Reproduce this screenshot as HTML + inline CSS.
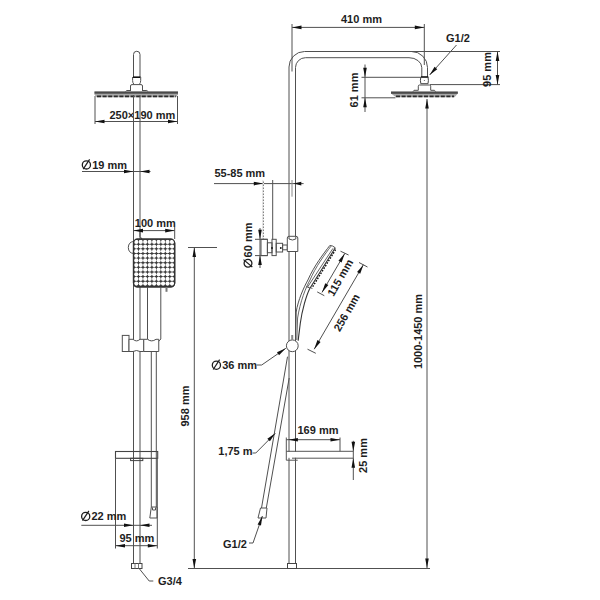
<!DOCTYPE html>
<html><head><meta charset="utf-8"><style>
html,body{margin:0;padding:0;background:#fff;width:600px;height:600px;overflow:hidden}
svg{display:block}
text{font-family:"Liberation Sans",sans-serif}
</style></head><body>
<svg width="600" height="600" viewBox="0 0 600 600">
<rect width="600" height="600" fill="#fff"/>
<path d="M133.5,77 V54.5 A3.25,3.25 0 0 1 140,54.5 V77" stroke="#505050" stroke-width="1" fill="none"/>
<line x1="133" y1="77.2" x2="140.5" y2="77.2" stroke="#111" stroke-width="1.6"/>
<path d="M132.6,77 V80.5 Q132.6,83 134,84.4 M140.7,77 V80.5 Q140.7,83 139.3,84.4" stroke="#505050" stroke-width="1" fill="none"/>
<path d="M130.5,91 V86 Q130.5,84.6 132,84.6 H141 Q142.5,84.6 142.5,86 V91" stroke="#505050" stroke-width="1" fill="none"/>
<path d="M125.3,91.8 L126.8,90.5 H130.5 M142.5,90.5 H146.8 L148.3,91.8" stroke="#505050" stroke-width="1" fill="none"/>
<path d="M94.5,91.5 H178 V94.5 L176,97.3 H96.5 L94.5,94.5 Z" stroke="none" stroke-width="0" fill="#a8a8a8"/>
<rect x="94.5" y="91.5" width="83.5" height="2.2" rx="0" stroke="none" stroke-width="0" fill="#4a4a4a"/>
<line x1="97" y1="96.4" x2="176" y2="96.4" stroke="#2a2a2a" stroke-width="1.8" stroke-dasharray="4 1.6"/>
<line x1="95" y1="96" x2="95" y2="124" stroke="#505050" stroke-width="1"/>
<line x1="177.5" y1="96" x2="177.5" y2="124" stroke="#505050" stroke-width="1"/>
<line x1="95" y1="121.5" x2="177.5" y2="121.5" stroke="#505050" stroke-width="1"/>
<polygon points="95.00,121.50 104.50,119.70 104.50,123.30" fill="#111"/>
<polygon points="177.50,121.50 168.00,123.30 168.00,119.70" fill="#111"/>
<text x="109.5" y="118.5" font-size="11" text-anchor="start" fill="#1e1e1e" font-weight="bold">250×190 mm</text>
<line x1="133.5" y1="95" x2="133.5" y2="563.5" stroke="#505050" stroke-width="1"/>
<line x1="140" y1="95" x2="140" y2="563.5" stroke="#505050" stroke-width="1"/>
<circle cx="86.40" cy="164.90" r="4.10" stroke="#1e1e1e" stroke-width="1.3" fill="none"/>
<line x1="83.20" y1="169.20" x2="89.60" y2="159.40" stroke="#1e1e1e" stroke-width="1.2"/>
<text x="92.2" y="168.5" font-size="11" text-anchor="start" fill="#1e1e1e" font-weight="bold">19 mm</text>
<line x1="82" y1="171.5" x2="150.5" y2="171.5" stroke="#505050" stroke-width="1"/>
<polygon points="133.50,171.50 124.00,173.30 124.00,169.70" fill="#111"/>
<polygon points="140.00,171.50 149.50,169.70 149.50,173.30" fill="#111"/>
<text x="134.8" y="226.6" font-size="11" text-anchor="start" fill="#1e1e1e" font-weight="bold">100 mm</text>
<line x1="133.5" y1="230.6" x2="174.7" y2="230.6" stroke="#505050" stroke-width="1"/>
<polygon points="133.50,230.60 143.00,228.80 143.00,232.40" fill="#111"/>
<polygon points="174.70,230.60 165.20,232.40 165.20,228.80" fill="#111"/>
<line x1="174.7" y1="227" x2="174.7" y2="239" stroke="#505050" stroke-width="1"/>
<path d="M140,232 V236.5 L142,239" stroke="#505050" stroke-width="1" fill="none"/>
<path d="M133.5,241.5 Q128.5,242 128.3,247.5 Q128.5,253 133.5,253.5" stroke="#505050" stroke-width="1" fill="none"/>
<rect x="133.5" y="239.2" width="41.2" height="47.7" rx="4" stroke="#333" stroke-width="1.2" fill="#3a3a3a"/>
<circle cx="136.25" cy="241.90" r="2.12" fill="#fff"/>
<circle cx="136.25" cy="246.53" r="2.12" fill="#fff"/>
<circle cx="136.25" cy="251.16" r="2.12" fill="#fff"/>
<circle cx="136.25" cy="255.79" r="2.12" fill="#fff"/>
<circle cx="136.25" cy="260.42" r="2.12" fill="#fff"/>
<circle cx="136.25" cy="265.05" r="2.12" fill="#fff"/>
<circle cx="136.25" cy="269.68" r="2.12" fill="#fff"/>
<circle cx="136.25" cy="274.31" r="2.12" fill="#fff"/>
<circle cx="136.25" cy="278.94" r="2.12" fill="#fff"/>
<circle cx="136.25" cy="283.57" r="2.12" fill="#fff"/>
<circle cx="140.72" cy="241.90" r="2.12" fill="#fff"/>
<circle cx="140.72" cy="246.53" r="2.12" fill="#fff"/>
<circle cx="140.72" cy="251.16" r="2.12" fill="#fff"/>
<circle cx="140.72" cy="255.79" r="2.12" fill="#fff"/>
<circle cx="140.72" cy="260.42" r="2.12" fill="#fff"/>
<circle cx="140.72" cy="265.05" r="2.12" fill="#fff"/>
<circle cx="140.72" cy="269.68" r="2.12" fill="#fff"/>
<circle cx="140.72" cy="274.31" r="2.12" fill="#fff"/>
<circle cx="140.72" cy="278.94" r="2.12" fill="#fff"/>
<circle cx="140.72" cy="283.57" r="2.12" fill="#fff"/>
<circle cx="145.19" cy="241.90" r="2.12" fill="#fff"/>
<circle cx="145.19" cy="246.53" r="2.12" fill="#fff"/>
<circle cx="145.19" cy="251.16" r="2.12" fill="#fff"/>
<circle cx="145.19" cy="255.79" r="2.12" fill="#fff"/>
<circle cx="145.19" cy="260.42" r="2.12" fill="#fff"/>
<circle cx="145.19" cy="265.05" r="2.12" fill="#fff"/>
<circle cx="145.19" cy="269.68" r="2.12" fill="#fff"/>
<circle cx="145.19" cy="274.31" r="2.12" fill="#fff"/>
<circle cx="145.19" cy="278.94" r="2.12" fill="#fff"/>
<circle cx="145.19" cy="283.57" r="2.12" fill="#fff"/>
<circle cx="149.66" cy="241.90" r="2.12" fill="#fff"/>
<circle cx="149.66" cy="246.53" r="2.12" fill="#fff"/>
<circle cx="149.66" cy="251.16" r="2.12" fill="#fff"/>
<circle cx="149.66" cy="255.79" r="2.12" fill="#fff"/>
<circle cx="149.66" cy="260.42" r="2.12" fill="#fff"/>
<circle cx="149.66" cy="265.05" r="2.12" fill="#fff"/>
<circle cx="149.66" cy="269.68" r="2.12" fill="#fff"/>
<circle cx="149.66" cy="274.31" r="2.12" fill="#fff"/>
<circle cx="149.66" cy="278.94" r="2.12" fill="#fff"/>
<circle cx="149.66" cy="283.57" r="2.12" fill="#fff"/>
<circle cx="154.13" cy="241.90" r="2.12" fill="#fff"/>
<circle cx="154.13" cy="246.53" r="2.12" fill="#fff"/>
<circle cx="154.13" cy="251.16" r="2.12" fill="#fff"/>
<circle cx="154.13" cy="255.79" r="2.12" fill="#fff"/>
<circle cx="154.13" cy="260.42" r="2.12" fill="#fff"/>
<circle cx="154.13" cy="265.05" r="2.12" fill="#fff"/>
<circle cx="154.13" cy="269.68" r="2.12" fill="#fff"/>
<circle cx="154.13" cy="274.31" r="2.12" fill="#fff"/>
<circle cx="154.13" cy="278.94" r="2.12" fill="#fff"/>
<circle cx="154.13" cy="283.57" r="2.12" fill="#fff"/>
<circle cx="158.60" cy="241.90" r="2.12" fill="#fff"/>
<circle cx="158.60" cy="246.53" r="2.12" fill="#fff"/>
<circle cx="158.60" cy="251.16" r="2.12" fill="#fff"/>
<circle cx="158.60" cy="255.79" r="2.12" fill="#fff"/>
<circle cx="158.60" cy="260.42" r="2.12" fill="#fff"/>
<circle cx="158.60" cy="265.05" r="2.12" fill="#fff"/>
<circle cx="158.60" cy="269.68" r="2.12" fill="#fff"/>
<circle cx="158.60" cy="274.31" r="2.12" fill="#fff"/>
<circle cx="158.60" cy="278.94" r="2.12" fill="#fff"/>
<circle cx="158.60" cy="283.57" r="2.12" fill="#fff"/>
<circle cx="163.07" cy="241.90" r="2.12" fill="#fff"/>
<circle cx="163.07" cy="246.53" r="2.12" fill="#fff"/>
<circle cx="163.07" cy="251.16" r="2.12" fill="#fff"/>
<circle cx="163.07" cy="255.79" r="2.12" fill="#fff"/>
<circle cx="163.07" cy="260.42" r="2.12" fill="#fff"/>
<circle cx="163.07" cy="265.05" r="2.12" fill="#fff"/>
<circle cx="163.07" cy="269.68" r="2.12" fill="#fff"/>
<circle cx="163.07" cy="274.31" r="2.12" fill="#fff"/>
<circle cx="163.07" cy="278.94" r="2.12" fill="#fff"/>
<circle cx="163.07" cy="283.57" r="2.12" fill="#fff"/>
<circle cx="167.54" cy="241.90" r="2.12" fill="#fff"/>
<circle cx="167.54" cy="246.53" r="2.12" fill="#fff"/>
<circle cx="167.54" cy="251.16" r="2.12" fill="#fff"/>
<circle cx="167.54" cy="255.79" r="2.12" fill="#fff"/>
<circle cx="167.54" cy="260.42" r="2.12" fill="#fff"/>
<circle cx="167.54" cy="265.05" r="2.12" fill="#fff"/>
<circle cx="167.54" cy="269.68" r="2.12" fill="#fff"/>
<circle cx="167.54" cy="274.31" r="2.12" fill="#fff"/>
<circle cx="167.54" cy="278.94" r="2.12" fill="#fff"/>
<circle cx="167.54" cy="283.57" r="2.12" fill="#fff"/>
<circle cx="172.01" cy="241.90" r="2.12" fill="#fff"/>
<circle cx="172.01" cy="246.53" r="2.12" fill="#fff"/>
<circle cx="172.01" cy="251.16" r="2.12" fill="#fff"/>
<circle cx="172.01" cy="255.79" r="2.12" fill="#fff"/>
<circle cx="172.01" cy="260.42" r="2.12" fill="#fff"/>
<circle cx="172.01" cy="265.05" r="2.12" fill="#fff"/>
<circle cx="172.01" cy="269.68" r="2.12" fill="#fff"/>
<circle cx="172.01" cy="274.31" r="2.12" fill="#fff"/>
<circle cx="172.01" cy="278.94" r="2.12" fill="#fff"/>
<circle cx="172.01" cy="283.57" r="2.12" fill="#fff"/>
<rect x="133.5" y="239.2" width="41.2" height="47.7" rx="4" stroke="#333" stroke-width="1.2" fill="none"/>
<line x1="147.5" y1="287" x2="147.5" y2="339" stroke="#505050" stroke-width="1"/>
<line x1="160.8" y1="287" x2="160.8" y2="339" stroke="#505050" stroke-width="1"/>
<path d="M147.5,339 Q148,341.5 152,341.5 H156 Q160,341.5 160.8,339" stroke="#505050" stroke-width="1" fill="none"/>
<line x1="166.5" y1="287" x2="166.5" y2="291.8" stroke="#777" stroke-width="2"/>
<rect x="122.3" y="335.4" width="6.7" height="16.1" rx="0" stroke="#505050" stroke-width="1" fill="none"/>
<path d="M129,339.3 H133 Q136.5,342.5 140,339.3 H143.75 V351.5 H140 Q136.5,349.5 133,351.5 H129 Z" stroke="#505050" stroke-width="1" fill="#fff"/>
<path d="M143.75,339.3 H147.5 Q151.5,342.5 156,339.3 H158.75 V351.5 H143.75 Z" stroke="#505050" stroke-width="1" fill="#fff"/>
<line x1="151.3" y1="351.5" x2="151.3" y2="507" stroke="#505050" stroke-width="1"/>
<line x1="156.3" y1="351.5" x2="156.3" y2="507" stroke="#505050" stroke-width="1"/>
<line x1="188" y1="247.5" x2="217" y2="247.5" stroke="#505050" stroke-width="1"/>
<line x1="194.3" y1="247.5" x2="194.3" y2="568.5" stroke="#505050" stroke-width="1"/>
<polygon points="194.30,247.50 196.10,257.00 192.50,257.00" fill="#111"/>
<polygon points="194.30,568.50 192.50,559.00 196.10,559.00" fill="#111"/>
<text x="188.5" y="406" font-size="11" text-anchor="middle" fill="#1e1e1e" font-weight="bold" transform="rotate(-90 188.5 406)">958 mm</text>
<rect x="115.5" y="451.5" width="42.2" height="6.8" rx="0" stroke="#444" stroke-width="1.1" fill="none"/>
<rect x="130.6" y="458.3" width="12.2" height="2.3" rx="0" stroke="#444" stroke-width="1" fill="none"/>
<line x1="115.5" y1="458.3" x2="115.5" y2="548.5" stroke="#505050" stroke-width="1"/>
<line x1="157.3" y1="458.3" x2="157.3" y2="548.5" stroke="#505050" stroke-width="1"/>
<path d="M151.3,507 L149.8,518 H157 L157,507 Z" stroke="#505050" stroke-width="1" fill="none"/>
<path d="M152.5,507.5 V510 H155.5 V507.5" stroke="#505050" stroke-width="1" fill="none"/>
<circle cx="85.70" cy="516.40" r="4.10" stroke="#1e1e1e" stroke-width="1.3" fill="none"/>
<line x1="82.50" y1="520.70" x2="88.90" y2="510.90" stroke="#1e1e1e" stroke-width="1.2"/>
<text x="91.5" y="520" font-size="11" text-anchor="start" fill="#1e1e1e" font-weight="bold">22 mm</text>
<line x1="81.3" y1="525.3" x2="152" y2="525.3" stroke="#505050" stroke-width="1"/>
<polygon points="133.50,525.30 124.00,527.10 124.00,523.50" fill="#111"/>
<polygon points="140.00,525.30 149.50,523.50 149.50,527.10" fill="#111"/>
<text x="119.5" y="541.8" font-size="11" text-anchor="start" fill="#1e1e1e" font-weight="bold">95 mm</text>
<line x1="115.5" y1="545.7" x2="157.3" y2="545.7" stroke="#505050" stroke-width="1"/>
<polygon points="115.50,545.70 125.00,543.90 125.00,547.50" fill="#111"/>
<polygon points="157.30,545.70 147.80,547.50 147.80,543.90" fill="#111"/>
<rect x="131.5" y="563.5" width="10.5" height="5" rx="0" stroke="#444" stroke-width="1" fill="none"/>
<line x1="135" y1="563.5" x2="135" y2="568.5" stroke="#777" stroke-width="1"/>
<line x1="138.5" y1="563.5" x2="138.5" y2="568.5" stroke="#777" stroke-width="1"/>
<path d="M139.3,568.7 L149.2,581 H153.3" stroke="#505050" stroke-width="1" fill="none"/>
<text x="158" y="585" font-size="11" text-anchor="start" fill="#1e1e1e" font-weight="bold">G3/4</text>
<text x="341" y="22.6" font-size="11" text-anchor="start" fill="#1e1e1e" font-weight="bold">410 mm</text>
<line x1="292" y1="27.4" x2="424.3" y2="27.4" stroke="#505050" stroke-width="1"/>
<polygon points="292.00,27.40 301.50,25.60 301.50,29.20" fill="#111"/>
<polygon points="424.30,27.40 414.80,29.20 414.80,25.60" fill="#111"/>
<line x1="292" y1="24" x2="292" y2="71.5" stroke="#505050" stroke-width="1"/>
<line x1="424.3" y1="24" x2="424.3" y2="65" stroke="#505050" stroke-width="1"/>
<path d="M289,563.5 V67 A15.5,15.5 0 0 1 304.5,51.5 H411.5 A16,16 0 0 1 427.5,67.5 V77" stroke="#505050" stroke-width="1" fill="none"/>
<path d="M295.5,563.5 V67.5 A10,10 0 0 1 305.5,57.7 H409 A12.8,10 0 0 1 421.8,67.7 V77" stroke="#505050" stroke-width="1" fill="none"/>
<line x1="421" y1="77" x2="428.3" y2="77" stroke="#111" stroke-width="1.6"/>
<path d="M420.8,77 Q420,80.3 420.8,83.7 H428 Q428.8,80.3 428,77" stroke="#444" stroke-width="1" fill="none"/>
<circle cx="424.4" cy="80.5" r="0.6" fill="#666"/>
<path d="M412.7,92 L414,90.3 H418.3 V86.2 Q418.3,85 419.5,85 H429.5 Q430.7,85 430.7,86.2 V90.3 H434.5 L435.7,92" stroke="#505050" stroke-width="1" fill="none"/>
<line x1="411" y1="51.5" x2="500" y2="51.5" stroke="#505050" stroke-width="1"/>
<line x1="430" y1="84.6" x2="500" y2="84.6" stroke="#505050" stroke-width="1"/>
<line x1="497.5" y1="51.5" x2="497.5" y2="84.6" stroke="#505050" stroke-width="1"/>
<polygon points="497.50,51.50 499.30,61.00 495.70,61.00" fill="#111"/>
<polygon points="497.50,84.60 495.70,75.10 499.30,75.10" fill="#111"/>
<text x="490.7" y="69.5" font-size="11" text-anchor="middle" fill="#1e1e1e" font-weight="bold" transform="rotate(-90 490.7 69.5)">95 mm</text>
<text x="446" y="42" font-size="11" text-anchor="start" fill="#1e1e1e" font-weight="bold">G1/2</text>
<line x1="456.5" y1="45" x2="429.6" y2="75" stroke="#505050" stroke-width="1"/>
<polygon points="429.60,75.00 434.60,66.73 437.28,69.13" fill="#111"/>
<path d="M391,91.6 H457.8 V93.5 L454.5,97.2 H396 L391,93.5 Z" stroke="none" stroke-width="0" fill="#a8a8a8"/>
<rect x="391" y="91.6" width="66.8" height="2.2" rx="0" stroke="none" stroke-width="0" fill="#4a4a4a"/>
<line x1="396" y1="96.4" x2="454" y2="96.4" stroke="#2a2a2a" stroke-width="1.8" stroke-dasharray="4 1.6"/>
<line x1="361.5" y1="77.3" x2="421" y2="77.3" stroke="#505050" stroke-width="1"/>
<line x1="361.5" y1="97.8" x2="395.5" y2="97.8" stroke="#505050" stroke-width="1"/>
<line x1="365" y1="64.5" x2="365" y2="112" stroke="#505050" stroke-width="1"/>
<polygon points="365.00,77.30 363.20,67.80 366.80,67.80" fill="#111"/>
<polygon points="365.00,97.80 366.80,107.30 363.20,107.30" fill="#111"/>
<text x="358" y="90" font-size="11" text-anchor="middle" fill="#1e1e1e" font-weight="bold" transform="rotate(-90 358 90)">61 mm</text>
<line x1="427" y1="99" x2="427" y2="568" stroke="#505050" stroke-width="1"/>
<polygon points="427.00,99.00 428.80,108.50 425.20,108.50" fill="#111"/>
<polygon points="427.00,568.00 425.20,558.50 428.80,558.50" fill="#111"/>
<text x="422.2" y="331.5" font-size="11" text-anchor="middle" fill="#1e1e1e" font-weight="bold" transform="rotate(-90 422.2 331.5)">1000-1450 mm</text>
<line x1="188" y1="568.5" x2="430" y2="568.5" stroke="#505050" stroke-width="1"/>
<rect x="287.5" y="563.5" width="9" height="5" rx="0" stroke="#444" stroke-width="1" fill="none"/>
<text x="214.4" y="177.2" font-size="11" text-anchor="start" fill="#1e1e1e" font-weight="bold">55-85 mm</text>
<line x1="214" y1="183.6" x2="303.6" y2="183.6" stroke="#505050" stroke-width="1"/>
<polygon points="263.30,183.60 253.80,185.40 253.80,181.80" fill="#111"/>
<polygon points="293.50,183.60 301.30,181.80 301.30,185.40" fill="#111"/>
<line x1="263.3" y1="180" x2="263.3" y2="239" stroke="#666" stroke-width="1"/>
<line x1="263.3" y1="180" x2="263.3" y2="256" stroke="#fff" stroke-width="1.2" stroke-dasharray="1.5 1.5"/>
<line x1="272.7" y1="180" x2="272.7" y2="239.3" stroke="#505050" stroke-width="1"/>
<line x1="292" y1="180" x2="292" y2="196.7" stroke="#888" stroke-width="1"/>
<line x1="260" y1="228" x2="260" y2="268" stroke="#505050" stroke-width="1"/>
<polygon points="260.00,239.30 258.20,229.80 261.80,229.80" fill="#111"/>
<polygon points="260.00,255.60 261.80,265.10 258.20,265.10" fill="#111"/>
<line x1="255" y1="239.3" x2="267.4" y2="239.3" stroke="#505050" stroke-width="1"/>
<line x1="255" y1="255.6" x2="267.4" y2="255.6" stroke="#505050" stroke-width="1"/>
<g transform="translate(251.9,267.6) rotate(-90)">
<circle cx="4.3" cy="-3.9" r="3.9" stroke="#1e1e1e" stroke-width="1.3" fill="none"/>
<line x1="0.6" y1="0.4" x2="8" y2="-8.4" stroke="#1e1e1e" stroke-width="1.2"/>
<text x="10.2" y="0" font-size="11" font-weight="bold" fill="#1e1e1e">60 mm</text>
</g>
<rect x="261" y="239.3" width="6.4" height="16.3" rx="0" stroke="#505050" stroke-width="1" fill="none"/>
<rect x="267.4" y="242.8" width="4.6" height="9.9" rx="0" stroke="#505050" stroke-width="1" fill="none"/>
<rect x="272" y="239.3" width="4.2" height="16.3" rx="0" stroke="#505050" stroke-width="1" fill="none"/>
<rect x="276.2" y="243.3" width="6.4" height="8.7" rx="0" stroke="#505050" stroke-width="1" fill="none"/>
<rect x="282.6" y="245" width="4.7" height="4.8" rx="0" stroke="#505050" stroke-width="1" fill="none"/>
<path d="M287.3,251.5 V238 Q287.3,236.3 289,236.3 H296 Q297.8,236.3 297.8,238 V251.5 Z" stroke="#505050" stroke-width="1" fill="#fff"/>
<path d="M289,236.5 V239 Q292.5,241 295.8,239 V236.5" stroke="#505050" stroke-width="1" fill="none"/>
<circle cx="272" cy="248" r="0.9" fill="#111"/><circle cx="280.8" cy="248" r="0.9" fill="#111"/>
<path d="M329.8,245.5 Q332.5,245.3 335.3,247.8" stroke="#505050" stroke-width="1" fill="none"/>
<path d="M329.8,245.5 C324,253 314,266 307.9,280 C304,287 298,300 296.2,312 L295.6,340" stroke="#505050" stroke-width="1" fill="none"/>
<path d="M331,246.2 C325,254 315.5,267 310,280 C306,287 300,302 297.6,318 L296.8,340" stroke="#666" stroke-width="1" fill="none"/>
<path d="M333,248.3 L307.6,287" stroke="#666" stroke-width="1" fill="none"/>
<path d="M335.3,247.8 L309.8,288.5 C306.5,295 302,310 300.3,323.3 C299.5,330 298.6,336 298.2,340.7" stroke="#333" stroke-width="1.1" fill="none"/>
<path d="M335.6,249.6 L311.6,288.5" stroke="#111" stroke-width="1.4" stroke-dasharray="1.6 1.4" fill="none"/>
<path d="M306.3,286.5 L310,288.1" stroke="#505050" stroke-width="1" fill="none"/>
<line x1="340.5" y1="251.2" x2="348.6" y2="255" stroke="#505050" stroke-width="1"/>
<line x1="317.2" y1="291.9" x2="324.3" y2="295.7" stroke="#505050" stroke-width="1"/>
<line x1="344.8" y1="253.4" x2="322" y2="292.4" stroke="#505050" stroke-width="1"/>
<polygon points="344.80,253.40 341.56,262.51 338.45,260.69" fill="#111"/>
<polygon points="322.00,292.40 325.24,283.29 328.35,285.11" fill="#111"/>
<text x="343.5" y="279.5" font-size="11" text-anchor="middle" fill="#1e1e1e" font-weight="bold" transform="rotate(-60 343.5 279.5)">115 mm</text>
<line x1="363.4" y1="264.7" x2="314.2" y2="349.2" stroke="#505050" stroke-width="1"/>
<polygon points="363.40,264.70 360.18,273.82 357.06,272.00" fill="#111"/>
<polygon points="314.20,349.20 317.42,340.08 320.54,341.90" fill="#111"/>
<line x1="359" y1="262.5" x2="367.5" y2="267" stroke="#505050" stroke-width="1"/>
<line x1="307.5" y1="349.2" x2="315.8" y2="353.3" stroke="#505050" stroke-width="1"/>
<text x="350" y="314.5" font-size="11" text-anchor="middle" fill="#1e1e1e" font-weight="bold" transform="rotate(-60 350 314.5)">256 mm</text>
<circle cx="292.3" cy="345.8" r="5.9" stroke="#505050" stroke-width="1" fill="#fff"/>
<line x1="292.2" y1="335" x2="292.2" y2="339.9" stroke="#888" stroke-width="2"/>
<circle cx="216.40" cy="365.20" r="4.10" stroke="#1e1e1e" stroke-width="1.3" fill="none"/>
<line x1="213.20" y1="369.50" x2="219.60" y2="359.70" stroke="#1e1e1e" stroke-width="1.2"/>
<text x="222.2" y="368.8" font-size="11" text-anchor="start" fill="#1e1e1e" font-weight="bold">36 mm</text>
<path d="M256.7,365 H261.7 L285.8,348.3" stroke="#505050" stroke-width="1" fill="none"/>
<polygon points="285.80,348.30 279.02,355.19 276.97,352.23" fill="#111"/>
<line x1="287.5" y1="356.7" x2="261.5" y2="508" stroke="#505050" stroke-width="1"/>
<line x1="289.2" y1="378" x2="266.3" y2="508" stroke="#505050" stroke-width="1"/>
<path d="M260.5,508 H267 L266,518 H258 Z" stroke="#505050" stroke-width="1" fill="#fff"/>
<text x="218.3" y="455.2" font-size="11" text-anchor="start" fill="#1e1e1e" font-weight="bold">1,75 m</text>
<path d="M252.5,453 H255.8 L275.3,433.3" stroke="#505050" stroke-width="1" fill="none"/>
<polygon points="275.30,433.30 269.90,441.32 267.34,438.79" fill="#111"/>
<text x="223" y="547.8" font-size="11" text-anchor="start" fill="#1e1e1e" font-weight="bold">G1/2</text>
<path d="M249,543 H253 L262.4,516" stroke="#505050" stroke-width="1" fill="none"/>
<polygon points="262.40,516.00 260.98,525.56 257.58,524.38" fill="#111"/>
<rect x="287" y="451.8" width="66" height="6" rx="0" stroke="none" stroke-width="0" fill="#fff"/>
<path d="M286.3,437.5 V460.2 H297.7 M286.3,451.3 H353.3 M292,458.2 H353.3" stroke="#555" stroke-width="1" fill="none"/>
<line x1="340" y1="437.5" x2="340" y2="451.3" stroke="#505050" stroke-width="1"/>
<text x="297.5" y="434.3" font-size="11" text-anchor="start" fill="#1e1e1e" font-weight="bold">169 mm</text>
<line x1="286.3" y1="439.7" x2="340" y2="439.7" stroke="#505050" stroke-width="1"/>
<polygon points="288.40,439.70 297.90,437.90 297.90,441.50" fill="#111"/>
<polygon points="340.00,439.70 330.50,441.50 330.50,437.90" fill="#111"/>
<line x1="353.3" y1="440.8" x2="353.3" y2="480" stroke="#505050" stroke-width="1"/>
<polygon points="353.30,451.30 351.50,441.80 355.10,441.80" fill="#111"/>
<polygon points="353.30,458.30 355.10,467.80 351.50,467.80" fill="#111"/>
<text x="366.5" y="455.5" font-size="11" text-anchor="middle" fill="#1e1e1e" font-weight="bold" transform="rotate(-90 366.5 455.5)">25 mm</text>
</svg>
</body></html>
